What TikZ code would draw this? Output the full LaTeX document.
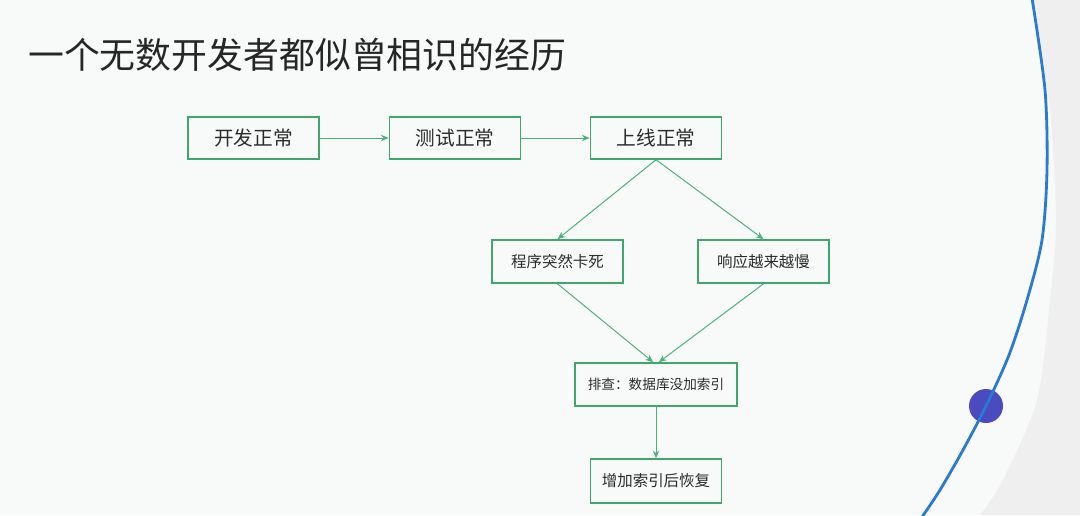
\documentclass[tikz,border=0pt]{standalone}
\usepackage{fontspec}
\newfontfamily\cjk{Noto Sans CJK SC}
\usepackage{xcolor}
\usetikzlibrary{arrows.meta,positioning}
\definecolor{flowgreen}{HTML}{3FA66E}
\definecolor{arrowgreen}{HTML}{4CB07A}
\definecolor{pagebg}{HTML}{F8F9F9}
\definecolor{sidegray}{HTML}{EFEFEF}
\definecolor{arcblue}{HTML}{2A7BD0}
\definecolor{dotblue}{HTML}{4B4BC0}
\definecolor{textgray}{HTML}{2B2B2B}

\begin{document}
\begin{tikzpicture}[
    x=0.025cm, y=-0.025cm,
    >={Stealth[length=5.5pt,width=4.5pt]},
    font=\cjk,
    text=textgray,
    box/.style={
        draw=flowgreen,
        line width=1pt,
        minimum width=3.28cm,
        minimum height=1.05cm,
        inner sep=0pt,
        align=center,
        font=\cjk\fontsize{14}{16}\selectfont
    },
    smallbox/.style={
        box,
        minimum height=1.08cm,
        font=\cjk\fontsize{11}{13}\selectfont
    },
    arr/.style={->, draw=arrowgreen, line width=0.7pt}
]

% page background and side decoration
\useasboundingbox (0,0) rectangle (1080,515);
\fill[pagebg] (0,0) rectangle (1080,515);
\fill[sidegray] plot[smooth] coordinates {(1034,0) (1050,110) (1056,220) (1050,300) (1037,400) (1003,480) (980,515)}
    -- (1080,515) -- (1080,0) -- cycle;
\fill[dotblue] (986,406) circle (0.425cm);
\draw[arcblue, line width=2pt] plot[smooth] coordinates {(1032,-2) (1045,90) (1047,170) (1042,240) (1027,300) (1009,355) (986,406) (963,450) (940,490) (922,517)};

% title
\node[anchor=west, inner sep=0pt, text=black!85, font=\cjk\fontsize{25.5}{28}\selectfont] (title) at (28,55)
{一个无数开发者都似曾相识的经历};

% first row
\node[box] (dev) at (253.5,138) {开发正常};
\node[box] (test) at (455,138) {测试正常};
\node[box] (online) at (656,138) {上线正常};

% symptoms
\node[smallbox] (freeze) at (557.5,261.5) {程序突然卡死};
\node[smallbox] (slow) at (763.5,261.5) {响应越来越慢};

% diagnosis and fix
\node[smallbox, minimum width=4.05cm, font=\cjk\fontsize{9.7}{12}\selectfont] (check) at (656,384.5) {排查：数据库没加索引};
\node[smallbox, minimum height=1.1cm] (fix) at (656,481) {增加索引后恢复};

\draw[arr] (dev) -- (test);
\draw[arr] (test) -- (online);
\draw[arr] (online.south) -- (freeze.north);
\draw[arr] (online.south) -- (slow.north);
\draw[arr] (freeze.south) -- ([xshift=-2pt]check.north);
\draw[arr] (slow.south) -- ([xshift=2pt]check.north);
\draw[arr] (check) -- (fix);

\end{tikzpicture}
\end{document}
